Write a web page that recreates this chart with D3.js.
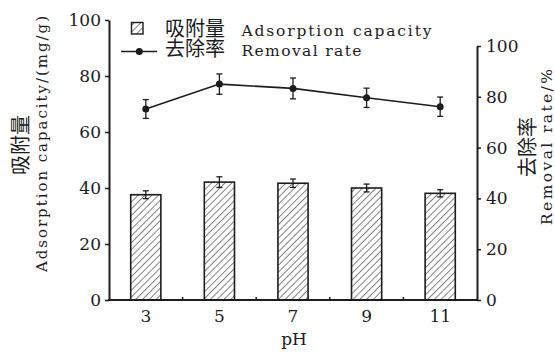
<!DOCTYPE html>
<html>
<head>
<meta charset="utf-8">
<script src="https://cdn.jsdelivr.net/npm/d3@7"></script>
<style>
  html, body { margin: 0; padding: 0; background: #fff; }
  svg { display: block; }
</style>
</head>
<body>
<div id="chart"></div>
<script>
// pH levels on the x axis
const categories = ['3', '5', '7', '9', '11'];
// adsorption capacity (mg/g), left axis
const adsorption = [37.6, 42.1, 41.7, 40.0, 38.1];
const adsorptionErr = [1.4, 1.9, 1.5, 1.4, 1.3];
// removal rate (%), right axis
const removal = [75.2, 85.0, 83.3, 79.6, 76.1];
const removalErr = [3.7, 4.0, 4.1, 3.8, 3.8];
// axis ticks
const leftTicks = [0, 20, 40, 60, 80, 100];
const rightTicks = [0, 20, 40, 60, 80, 100];

const W = 555, H = 352;
const ink = '#1c1c1c';
const cjk = '"Noto Sans CJK SC", sans-serif';
const latin = '"DejaVu Serif", serif';
const num = '"DejaVu Serif", serif';

const svg = d3.select('#chart').append('svg')
  .attr('width', W).attr('height', H);

const defs = svg.append('defs');
const hs = 4.8;
const pat = defs.append('pattern')
  .attr('id', 'hatch').attr('patternUnits', 'userSpaceOnUse')
  .attr('width', hs).attr('height', hs)
  .attr('patternTransform', 'rotate(45)');
pat.append('rect').attr('width', hs).attr('height', hs).attr('fill', '#fff');
pat.append('line').attr('x1', 0).attr('y1', 0).attr('x2', 0).attr('y2', hs)
  .attr('stroke', ink).attr('stroke-width', 1.1);

const x = d3.scaleBand().domain(categories).range([109, 477]).padding(0);
const yL = d3.scaleLinear().domain([0, 100]).range([300, 20]);
const yR = d3.scaleLinear().domain([0, 100]).range([300, 46]);
const barW = x.bandwidth() * 0.41;
const cx = d => x(d) + x.bandwidth() / 2;

// bars
svg.append('g').selectAll('rect').data(categories).join('rect')
  .attr('x', d => cx(d) - barW / 2)
  .attr('y', (d, i) => yL(adsorption[i]))
  .attr('width', barW)
  .attr('height', (d, i) => yL(0) - yL(adsorption[i]))
  .attr('fill', 'url(#hatch)')
  .attr('stroke', ink).attr('stroke-width', 1.6);

// bar error bars
const be = svg.append('g').attr('stroke', ink).attr('stroke-width', 1.3);
categories.forEach((c, i) => {
  const x0 = cx(c), hi = yL(adsorption[i] + adsorptionErr[i]), lo = yL(adsorption[i] - adsorptionErr[i]);
  be.append('line').attr('x1', x0).attr('x2', x0).attr('y1', hi).attr('y2', lo);
  be.append('line').attr('x1', x0 - 3).attr('x2', x0 + 3).attr('y1', hi).attr('y2', hi);
  be.append('line').attr('x1', x0 - 3).attr('x2', x0 + 3).attr('y1', lo).attr('y2', lo);
});

// removal rate line
const line = d3.line().x((d, i) => cx(categories[i])).y(d => yR(d));
svg.append('path').datum(removal).attr('d', line)
  .attr('fill', 'none').attr('stroke', ink).attr('stroke-width', 1.6);
const le = svg.append('g').attr('stroke', ink).attr('stroke-width', 1.3);
categories.forEach((c, i) => {
  const x0 = cx(c), hi = yR(removal[i] + removalErr[i]), lo = yR(removal[i] - removalErr[i]);
  le.append('line').attr('x1', x0).attr('x2', x0).attr('y1', hi).attr('y2', lo);
  le.append('line').attr('x1', x0 - 3).attr('x2', x0 + 3).attr('y1', hi).attr('y2', hi);
  le.append('line').attr('x1', x0 - 3).attr('x2', x0 + 3).attr('y1', lo).attr('y2', lo);
});
svg.append('g').selectAll('circle').data(removal).join('circle')
  .attr('cx', (d, i) => cx(categories[i])).attr('cy', d => yR(d))
  .attr('r', 3.5).attr('fill', ink);

// axes
function styleAxis(g) {
  g.select('.domain').attr('stroke', ink).attr('stroke-width', 2);
  g.selectAll('.tick line').attr('stroke', ink).attr('stroke-width', 1.5);
  g.selectAll('.tick text').attr('fill', ink).attr('font-family', num).attr('font-size', 17);
}
svg.append('g').attr('transform', 'translate(109,0)')
  .call(d3.axisLeft(yL).tickValues(leftTicks).tickSizeInner(4).tickSizeOuter(0).tickPadding(4))
  .call(styleAxis);
svg.append('g').attr('transform', 'translate(477,0)')
  .call(d3.axisRight(yR).tickValues(rightTicks).tickSizeInner(4).tickSizeOuter(0).tickPadding(5))
  .call(styleAxis);
const xa = svg.append('g').attr('transform', 'translate(0,300)')
  .call(d3.axisBottom(x).tickSize(0).tickPadding(10))
  .call(styleAxis);
xa.select('.domain').attr('d', 'M108,0H478');
// small inward marks between categories
xa.selectAll('.sep').data(categories.slice(1)).join('line')
  .attr('x1', d => x(d)).attr('x2', d => x(d)).attr('y1', 0).attr('y2', -3)
  .attr('stroke', ink).attr('stroke-width', 1.5);

// axis titles
svg.append('text').attr('x', 294).attr('y', 345).attr('text-anchor', 'middle')
  .attr('font-family', num).attr('font-size', 17).attr('fill', ink).text('pH');

svg.append('text').attr('transform', 'translate(28,145) rotate(-90)')
  .attr('text-anchor', 'middle').attr('font-family', cjk).attr('font-size', 20)
  .attr('fill', ink).text('吸附量');
svg.append('text').attr('transform', 'translate(47,144) rotate(-90)')
  .attr('text-anchor', 'middle').attr('font-family', latin).attr('font-size', 15)
  .attr('textLength', 256).attr('lengthAdjust', 'spacing')
  .attr('fill', ink).text('Adsorption capacity/(mg/g)');

svg.append('text').attr('transform', 'translate(535,147) rotate(-90)')
  .attr('text-anchor', 'middle').attr('font-family', cjk).attr('font-size', 20)
  .attr('fill', ink).text('去除率');
svg.append('text').attr('transform', 'translate(552,147) rotate(-90)')
  .attr('text-anchor', 'middle').attr('font-family', latin).attr('font-size', 15.5)
  .attr('textLength', 156).attr('lengthAdjust', 'spacing')
  .attr('fill', ink).text('Removal rate/%');

// legend
const lg = svg.append('g');
lg.append('rect').attr('x', 131.5).attr('y', 22.5).attr('width', 11.5).attr('height', 11.5)
  .attr('fill', 'url(#hatch)').attr('stroke', ink).attr('stroke-width', 1.4);
lg.append('line').attr('x1', 121).attr('x2', 157).attr('y1', 51.5).attr('y2', 51.5)
  .attr('stroke', ink).attr('stroke-width', 1.6);
lg.append('circle').attr('cx', 139.3).attr('cy', 51.5).attr('r', 3.5).attr('fill', ink);
const legendRows = [['吸附量', 'Adsorption capacity', 35.5, 190], ['去除率', 'Removal rate', 55.5, 120]];
legendRows.forEach(([zh, en, yb, len]) => {
  lg.append('text').attr('x', 165).attr('y', yb).attr('font-family', cjk)
    .attr('font-size', 20).attr('fill', ink).text(zh);
  lg.append('text').attr('x', 241.5).attr('y', yb).attr('font-family', latin)
    .attr('font-size', 15.5).attr('textLength', len).attr('lengthAdjust', 'spacing')
    .attr('fill', ink).text(en);
});
</script>
</body>
</html>
